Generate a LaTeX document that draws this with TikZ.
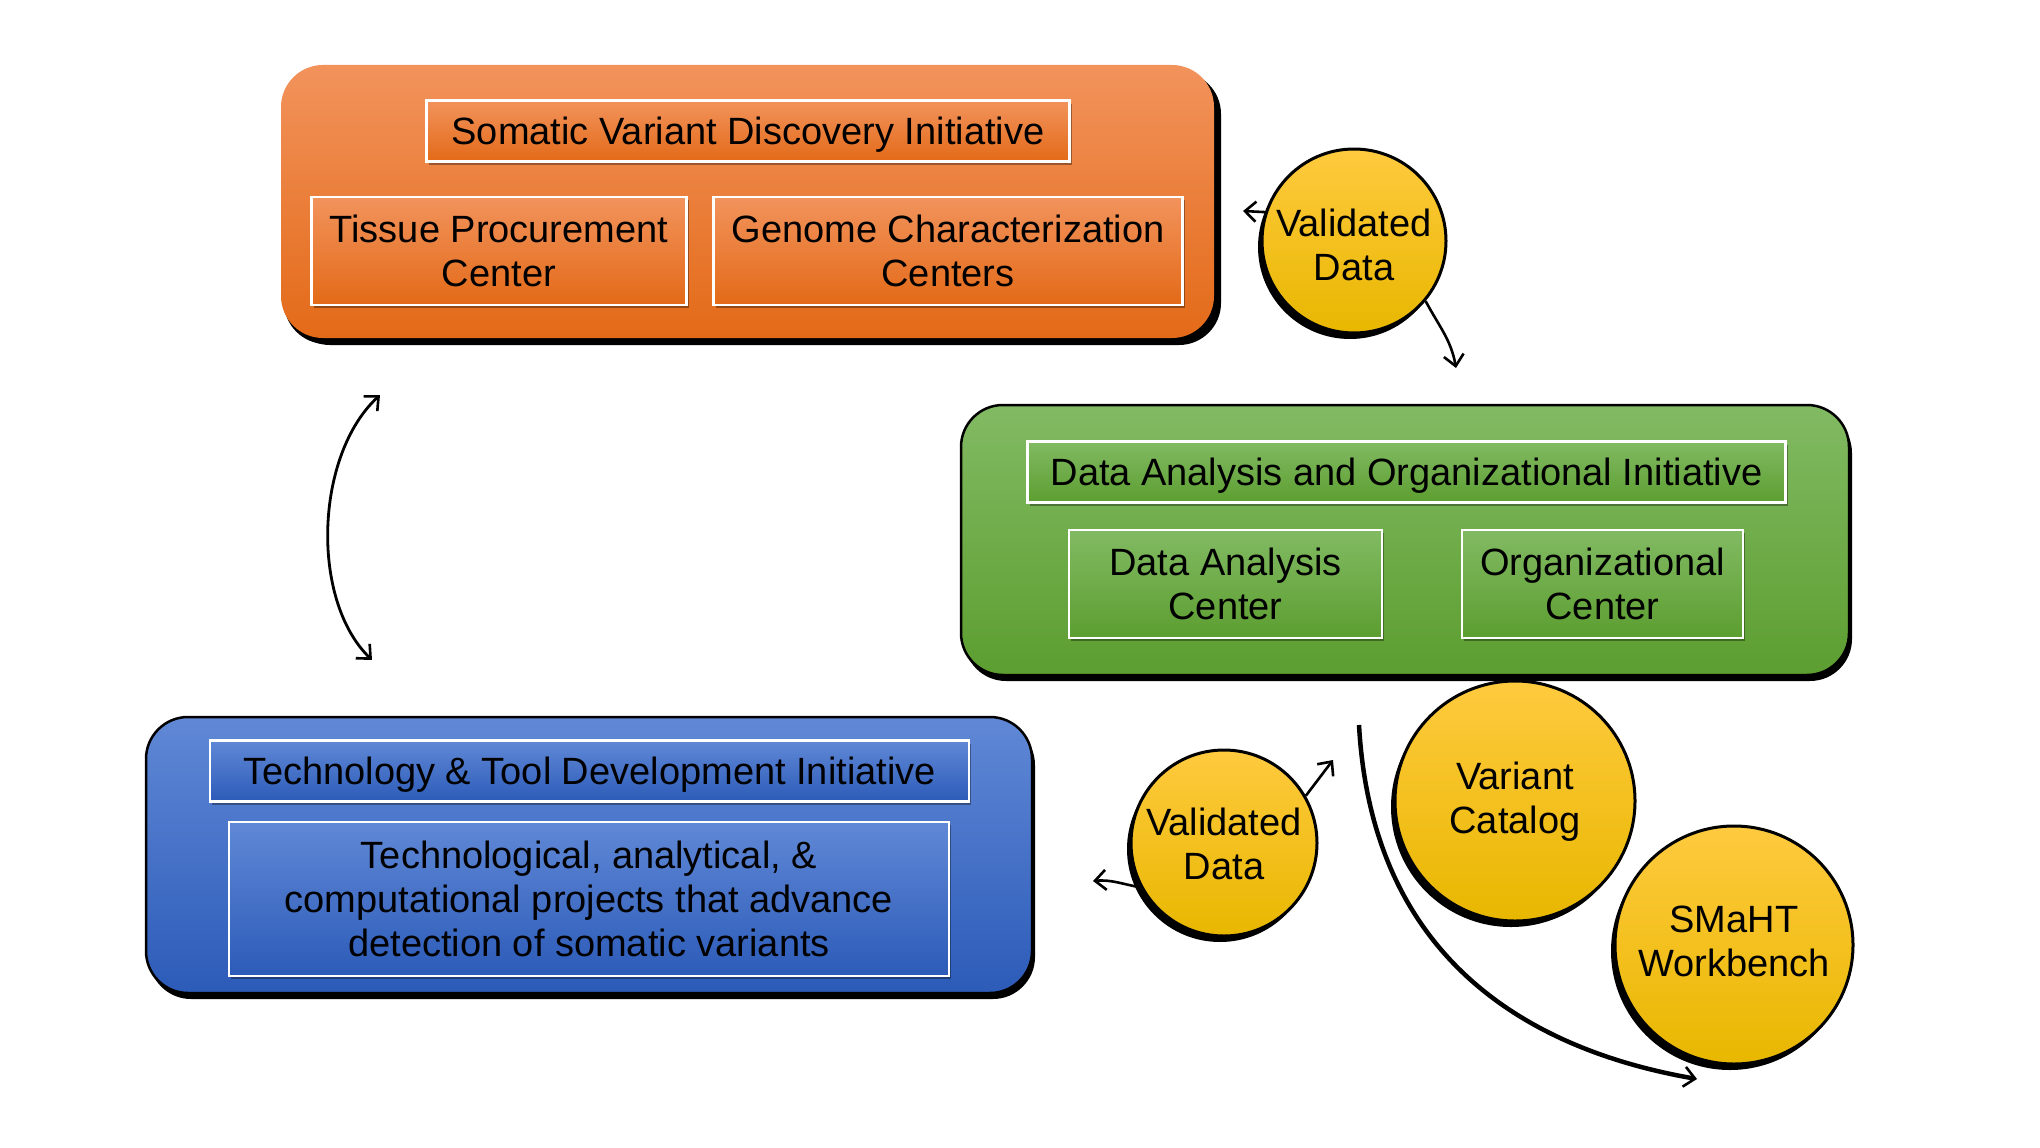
\documentclass[tikz,border=0pt]{standalone}
\usepackage{fontspec}
\setmainfont{Liberation Sans}
\usetikzlibrary{arrows.meta,shadows}
\definecolor{orT}{HTML}{F2935C}
\definecolor{orB}{HTML}{E36A18}
\definecolor{grT}{HTML}{82BA63}
\definecolor{grB}{HTML}{5C9E30}
\definecolor{blT}{HTML}{6088D6}
\definecolor{blB}{HTML}{2C5BB8}
\definecolor{yeT}{HTML}{FFCA3E}
\definecolor{yeM}{HTML}{FFC600}
\definecolor{yeB}{HTML}{E8B700}
\newcommand\tx[2]{\raisebox{#1}[\height][\depth]{\begin{tabular}{@{}c@{}}#2\end{tabular}}}
\begin{document}
\begin{tikzpicture}[x=1pt,y=-1pt,
  every node/.style={font=\fontsize{38}{44}\selectfont, text=black, inner sep=0pt},
  bigbox/.style={rectangle, rounded corners=42pt, draw=black, line width=2.5pt,
    general shadow={fill=black, shadow xshift=3pt, shadow yshift=-6pt}},
  innerbox/.style={rectangle, draw=white, line width=2.5pt,
    drop shadow={shadow xshift=2pt, shadow yshift=-3pt, opacity=0.35, fill=black}},
  orfill/.style={top color=orT, bottom color=orB},
  grfill/.style={top color=grT, bottom color=grB},
  blfill/.style={top color=blT, bottom color=blB},
  bubble/.style={circle, draw=black, line width=3pt, top color=yeT, middle color=yeM, bottom color=yeB,
    general shadow={fill=black, shadow xshift=-4pt, shadow yshift=-6pt}},
  link/.style={line width=2.6pt, -{Straight Barb[length=11pt,width=20pt,line width=2.6pt]}},
]
\useasboundingbox (0,0) rectangle (2040,1148);

% big boxes
\node[bigbox, orfill, draw=none, general shadow={fill=black, shadow xshift=7pt, shadow yshift=-7pt},
  minimum width=933pt, minimum height=273pt] (orange) at (747.5,201.5) {};
\node[bigbox, grfill, minimum width=888pt, minimum height=270pt] (green) at (1405,540) {};
\node[bigbox, blfill, minimum width=886pt, minimum height=276pt] (blue) at (589,855) {};

% orange inner
\node[innerbox, orfill, minimum width=643pt, minimum height=61pt] (svdi) at (748,131) {\tx{-5pt}{Somatic Variant Discovery Initiative}};
\node[innerbox, orfill, minimum width=375pt, minimum height=108pt] (tpc) at (499,251) {\tx{-5pt}{Tissue Procurement\\Center}};
\node[innerbox, orfill, minimum width=469pt, minimum height=108pt] (gcc) at (948,251) {\tx{-5pt}{Genome Characterization\\Centers}};

% green inner
\node[innerbox, grfill, minimum width=758pt, minimum height=61pt] (daoi) at (1406.5,472) {\tx{-5pt}{Data Analysis and Organizational Initiative}};
\node[innerbox, grfill, minimum width=313pt, minimum height=108pt] (dac) at (1225.5,584) {\tx{-5pt}{Data Analysis\\Center}};
\node[innerbox, grfill, minimum width=281pt, minimum height=108pt] (oc) at (1602.5,584) {\tx{-5pt}{Organizational\\Center}};

% blue inner
\node[innerbox, blfill, minimum width=759pt, minimum height=61pt] (ttdi) at (589.5,771) {\tx{-5pt}{Technology \& Tool Development Initiative}};
\node[innerbox, blfill, minimum width=720pt, minimum height=154pt] (tdesc) at (589,899) {\tx{-5pt}{Technological, analytical, \&\\computational projects that advance\\detection of somatic variants}};

% bubbles
\node[bubble, minimum size=184pt] (vtop) at (1354,241) {\tx{-9pt}{Validated\\Data}};
\node[bubble, minimum size=186pt] (vbot) at (1224,843) {\tx{-6pt}{Validated\\Data}};
\node[bubble, minimum size=240pt] (vcat) at (1515,801) {\tx{-2pt}{Variant\\Catalog}};
\node[bubble, minimum size=238pt] (smaht) at (1734,945) {\tx{-1pt}{SMaHT\\Workbench}};

% free ends
\coordinate (tipA) at (1243,211);
\coordinate (tipB) at (1456,368);
\coordinate (lrTop) at (380,395);
\coordinate (lrBot) at (372,660);
\coordinate (tipC) at (1333,760);
\coordinate (tipD) at (1093,881);
\coordinate (bigS) at (1359,725);
\coordinate (bigE) at (1697,1079);

% connectors
\draw[link] (vtop.162) -- (tipA);
\draw[link] (vtop.-40) to[out=-62,in=100] (tipB);
\draw[line width=2.8pt, {Straight Barb[length=11pt,width=20pt,line width=2.6pt]}-{Straight Barb[length=11pt,width=20pt,line width=2.6pt]}]
  (lrTop) .. controls (315,455) and (310,600) .. (lrBot);
\draw[link] (vbot.30) -- (tipC);
\draw[link] (vbot.208) to[out=170,in=5] (tipD);
\draw[line width=4.5pt, -{Straight Barb[length=11pt,width=20pt,line width=2.6pt]}]
  (bigS) .. controls (1372,960) and (1530,1050) .. (bigE);
\end{tikzpicture}
\end{document}
